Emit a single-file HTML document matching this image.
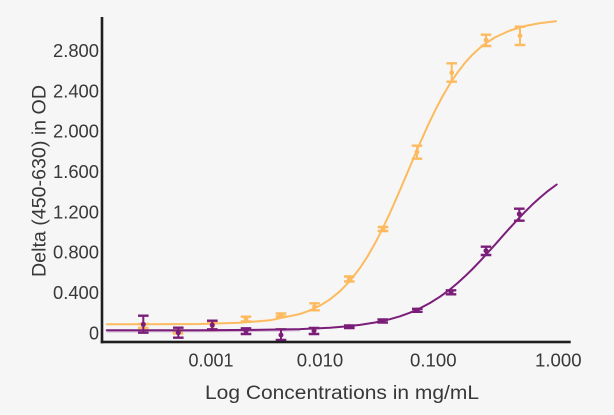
<!DOCTYPE html>
<html><head><meta charset="utf-8"><style>
html,body{margin:0;padding:0;background:#f6f6f6;}
svg{display:block;}
text{font-family:"Liberation Sans",sans-serif;fill:#383838;}
</style></head><body>
<svg width="614" height="415" viewBox="0 0 614 415" xmlns="http://www.w3.org/2000/svg">
<rect width="614" height="415" fill="#f6f6f6"/>
<!-- y tick labels -->
<g font-size="18" text-anchor="end">
<text x="99" y="57" textLength="46" lengthAdjust="spacingAndGlyphs">2.800</text>
<text x="99" y="97.3" textLength="46" lengthAdjust="spacingAndGlyphs">2.400</text>
<text x="99" y="137.6" textLength="46" lengthAdjust="spacingAndGlyphs">2.000</text>
<text x="99" y="178" textLength="46" lengthAdjust="spacingAndGlyphs">1.600</text>
<text x="99" y="218.3" textLength="46" lengthAdjust="spacingAndGlyphs">1.200</text>
<text x="99" y="258.6" textLength="46" lengthAdjust="spacingAndGlyphs">0.800</text>
<text x="99" y="298.9" textLength="46" lengthAdjust="spacingAndGlyphs">0.400</text>
<text x="99" y="339.3">0</text>
</g>
<!-- x tick labels -->
<g font-size="18" text-anchor="middle">
<text x="211" y="366.5" textLength="45" lengthAdjust="spacingAndGlyphs">0.001</text>
<text x="320" y="366.5" textLength="46.5" lengthAdjust="spacingAndGlyphs">0.010</text>
<text x="433.3" y="366.5" textLength="46.5" lengthAdjust="spacingAndGlyphs">0.100</text>
<text x="558.3" y="366.5" textLength="46.5" lengthAdjust="spacingAndGlyphs">1.000</text>
</g>
<!-- axis titles -->
<text x="205" y="399" font-size="19" textLength="274" lengthAdjust="spacingAndGlyphs">Log Concentrations in mg/mL</text>
<text transform="translate(45.5,277) rotate(-90)" x="0" y="0" font-size="19" textLength="192" lengthAdjust="spacingAndGlyphs">Delta (450-630) in OD</text>

<!-- orange curve -->
<polyline fill="none" stroke="#fdba5f" stroke-width="2" stroke-linejoin="round" stroke-linecap="round"
points="106.7,324.3 150,324.2 200,324 240,322.8 270,320.3 300,314 310,310.4 320,305.6 330,299.4 340,291.2 350,280.9 360,267.9 367.5,256.5 375,243.4 382.5,228.7 390,212.9 397.5,195.9 405,178.3 412.5,160.6 420,143.1 427.5,126.3 435,110.7 442.5,96.4 450,83.6 457.5,72.5 465,62.8 472.5,54.6 480,47.8 487.5,42.1 495,37.4 510,30.5 525,26 540,23.1 556,21.2"/>
<!-- orange error bars -->
<g stroke="#fdba5f" fill="#fdba5f">
<g stroke-width="2"><path d="M143.3,324V328M177.9,330.5V333.5M212.4,322V330M246,316.7V321.5M281,313.5V316.5M314.5,303.3V310.3M349.3,276.5V281.5M383,227V231M417,145.7V158.7M451.7,63.3V81.7M486,34.7V46M520,26.7V45"/></g>
<g stroke-width="2.4"><path d="M138,324H148.6M138,328H148.6M172.6,330.5H183.2M172.6,333.5H183.2M207.1,322H217.7M207.1,330H217.7M240.7,316.7H251.3M240.7,321.5H251.3M275.7,313.5H286.3M275.7,316.5H286.3M309.2,303.3H319.8M309.2,310.3H319.8M344,276.5H354.6M344,281.5H354.6M377.7,227H388.3M377.7,231H388.3M411.7,145.7H422.3M411.7,158.7H422.3M446.4,63.3H457M446.4,81.7H457M480.7,34.7H491.3M480.7,46H491.3M514.7,26.7H525.3M514.7,45H525.3"/></g>
<g stroke="none">
<circle cx="143.3" cy="326" r="2.4"/><circle cx="177.9" cy="332" r="2.4"/><circle cx="212.4" cy="326" r="2.4"/><circle cx="246" cy="319" r="2.4"/><circle cx="281" cy="315" r="2.4"/><circle cx="314.5" cy="306.7" r="2.4"/><circle cx="349.3" cy="279" r="2.4"/><circle cx="383" cy="229" r="2.4"/><circle cx="417" cy="152" r="2.4"/><circle cx="451.7" cy="72.7" r="2.4"/><circle cx="486" cy="40" r="2.4"/><circle cx="520" cy="35.7" r="2.4"/>
</g>
</g>

<!-- purple curve -->
<polyline fill="none" stroke="#7b1e7a" stroke-opacity="0.3" stroke-width="2" points="106.7,331.5 150,331.4 200,331.3 250,331 300,330.2"/>
<polyline fill="none" stroke="#7b1e7a" stroke-width="2" stroke-linejoin="round" stroke-linecap="round"
points="106.7,330.3 150,330.3 200,330.2 250,329.9 300,329.1 330,327.7 345,326.5 360,324.9 375,322.5 390,319.2 400,316.3 410,312.7 420,308.3 430,303 440,296.7 450,289.4 457.5,283.1 465,276.3 472.5,269 480,261.2 487.5,253 495,244.7 502.5,236.2 510,227.8 517.5,219.7 525,211.8 532.5,204.4 540,197.6 548,190.9 556.7,184.5"/>
<!-- purple error bars -->
<g stroke="#7b1e7a" fill="#7b1e7a">
<g stroke-width="2"><path d="M143.3,315.7V332.7M178.3,327.7V337.7M212.3,320.7V329.3M246,328.3V334M281,329.3V340M314,328V334M349.3,325.5V328M382.7,319.5V322.5M417.3,308.8V311.8M451,290.3V294.3M486,246.7V255M519.3,208.7V220.7"/></g>
<g stroke-width="2.4"><path d="M138,315.7H148.6M138,332.7H148.6M173,327.7H183.6M173,337.7H183.6M207,320.7H217.6M207,329.3H217.6M240.7,328.3H251.3M240.7,334H251.3M275.7,329.3H286.3M275.7,340H286.3M308.7,328H319.3M308.7,334H319.3M344,325.5H354.6M344,328H354.6M377.4,319.5H388M377.4,322.5H388M412,308.8H422.6M412,311.8H422.6M445.7,290.3H456.3M445.7,294.3H456.3M480.7,246.7H491.3M480.7,255H491.3M514,208.7H524.6M514,220.7H524.6"/></g>
<g stroke="none">
<circle cx="143.3" cy="324.3" r="2.5"/><circle cx="178.3" cy="332.7" r="2.5"/><circle cx="212.3" cy="325" r="2.5"/><circle cx="246" cy="331" r="2.5"/><circle cx="281" cy="335" r="2.5"/><circle cx="314" cy="330.7" r="2.5"/><circle cx="349.3" cy="326.7" r="2.5"/><circle cx="382.7" cy="321" r="2.5"/><circle cx="417.3" cy="310.3" r="2.5"/><circle cx="451" cy="292.3" r="2.5"/><circle cx="486" cy="250.7" r="2.5"/><circle cx="519.3" cy="214" r="2.5"/>
</g>
</g>

<!-- axes -->
<rect x="100.7" y="17" width="2.6" height="326.3" fill="#1e1e1e"/>
<rect x="100.7" y="340.7" width="470" height="2.6" fill="#1e1e1e"/>
</svg>
</body></html>
